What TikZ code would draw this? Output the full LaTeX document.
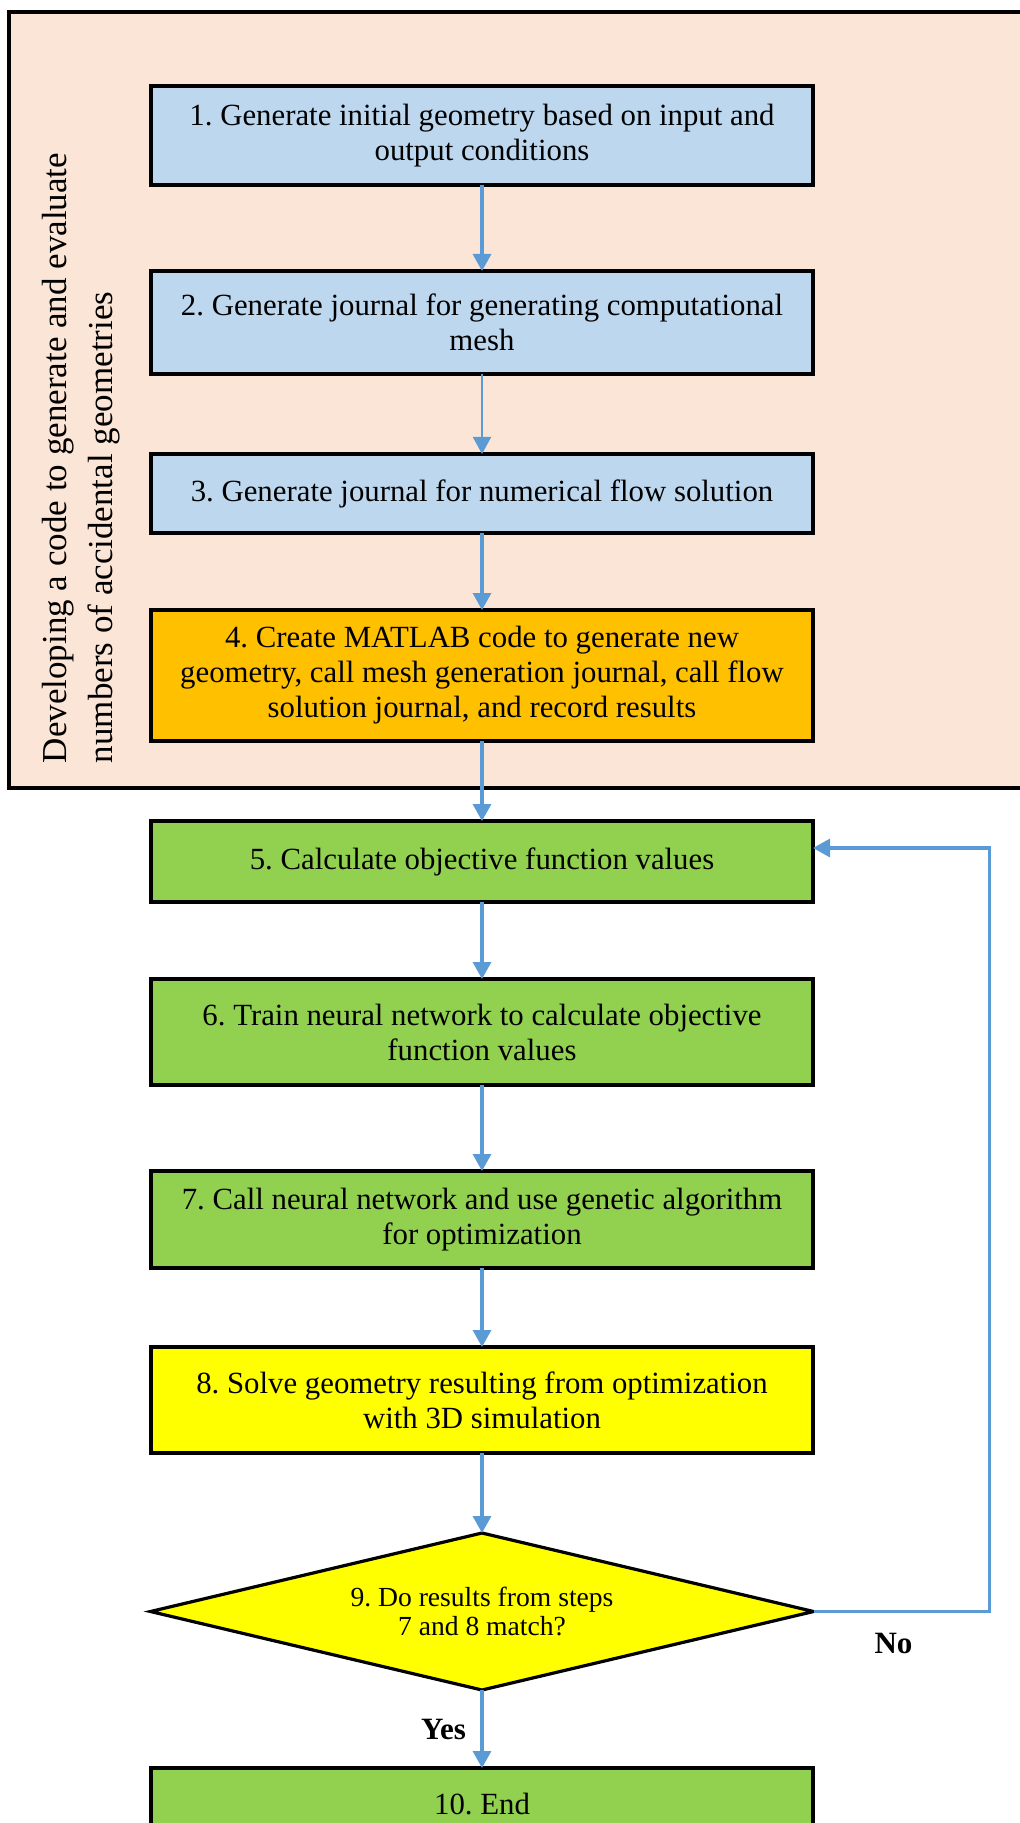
\documentclass[tikz,border=0pt]{standalone}
\usepackage{fontspec}
\setmainfont{Liberation Serif}
\usetikzlibrary{shapes.geometric, arrows.meta, positioning}
\definecolor{peachBg}{HTML}{FBE5D6}
\definecolor{stepBlue}{HTML}{BDD7EE}
\definecolor{stepOrange}{HTML}{FFC000}
\definecolor{stepGreen}{HTML}{92D050}
\definecolor{stepYellow}{HTML}{FFFF00}
\definecolor{arrowBlue}{HTML}{5B9BD5}
\frenchspacing

\begin{document}
\begin{tikzpicture}[
  x=0.5pt, y=-0.5pt,
  outer sep=0pt,
  stepbox/.style={
    rectangle,
    draw=black,
    line width=1.6pt,
    minimum width=331pt,
    align=center,
    inner sep=2pt,
    font=\fontsize{15.4pt}{17.5pt}\selectfont
  },
  decision/.style={
    diamond,
    draw=black,
    line width=1.6pt,
    fill=stepYellow,
    minimum width=331.5pt,
    minimum height=78.5pt,
    aspect=4.2,
    inner sep=0pt,
    align=center,
    font=\fontsize{13.8pt}{14.5pt}\selectfont
  },
  lbl/.style={font=\fontsize{15.5pt}{17pt}\selectfont\bfseries, text=black, inner sep=0pt},
  arr/.style={-{Triangle[length=8.5pt,width=9pt]}, line width=1.6pt, color=arrowBlue},
]

\useasboundingbox (0,0) rectangle (1019,1823);

% code-generation group
\draw[line width=1.6pt, fill=peachBg] (9,12) rectangle (1040,788);
\node[rotate=90, align=left, font=\fontsize{17.5pt}{23pt}\selectfont]
(grouptitle) at (81,458) {Developing a code to generate and evaluate\\numbers of accidental geometries};

\node[stepbox, fill=stepBlue, minimum height=49.5pt] (gen) at (482,135.5)
{1. Generate initial geometry based on input and\\output conditions};

\node[stepbox, fill=stepBlue, minimum height=51.5pt, below=43pt of gen]
(mesh) {2. Generate journal for generating computational\\mesh};

\node[stepbox, fill=stepBlue, minimum height=39.5pt, below=40pt of mesh]
(flow) {3. Generate journal for numerical flow solution};

\node[stepbox, fill=stepOrange, minimum height=65.5pt, below=38.5pt of flow]
(matlab) {4. Create MATLAB code to generate new\\geometry, call mesh generation journal, call flow\\solution journal, and record results};

% optimisation loop
\node[stepbox, fill=stepGreen, minimum height=40.5pt, below=40pt of matlab]
(calc) {5. Calculate objective function values};

\node[stepbox, fill=stepGreen, minimum height=53pt, below=38.5pt of calc]
(train) {6. Train neural network to calculate objective\\function values};

\node[stepbox, fill=stepGreen, minimum height=48.5pt, below=43pt of train]
(genetic) {7. Call neural network and use genetic algorithm\\for optimization};

\node[stepbox, fill=stepYellow, minimum height=53pt, below=39.5pt of genetic]
(solve) {8. Solve geometry resulting from optimization\\with 3D simulation};

\node[decision, below=40pt of solve] (dec) {9. Do results from steps\\7 and 8 match?};

\node[stepbox, fill=stepGreen, minimum height=36pt, below=39pt of dec]
(done) {10. End};

\draw[arr] (gen) -- (mesh);
\draw[arr, line width=1pt] (mesh) -- (flow);
\draw[arr] (flow) -- (matlab);
\draw[arr] (matlab) -- (calc);
\draw[arr] (calc) -- (train);
\draw[arr] (train) -- (genetic);
\draw[arr] (genetic) -- (solve);
\draw[arr] (solve) -- (dec);
\draw[arr] (dec.south) -- node[lbl, left=8pt] (yes) {Yes} (done.north);
\draw[arr] (dec.east) -- ++(88pt,0) |- ([yshift=6.75pt]calc.east);

\node[lbl, below right=11pt and 30.5pt of dec.east] (no) {No};

\end{tikzpicture}
\end{document}
